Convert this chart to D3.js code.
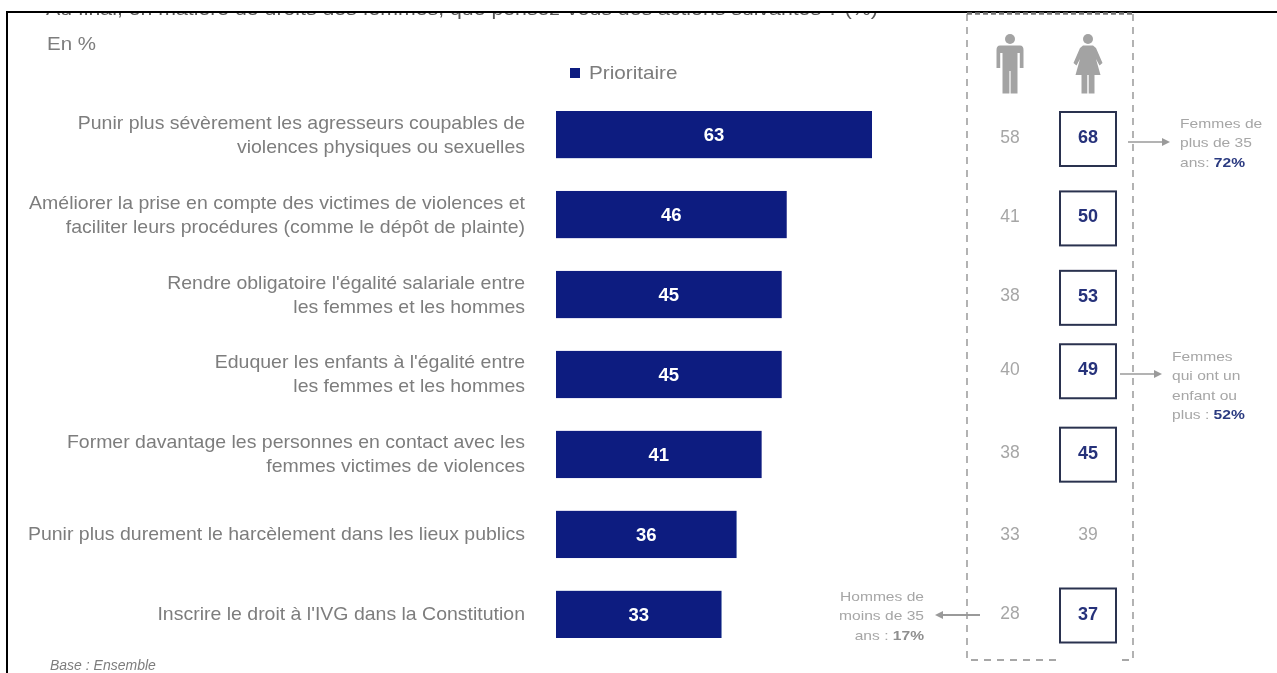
<!DOCTYPE html>
<html lang="fr"><head><meta charset="utf-8">
<script src="https://cdn.jsdelivr.net/npm/d3@7"></script>
<style>
html,body{margin:0;padding:0;background:#fff;overflow:hidden}
svg{display:block}
text{font-family:"Liberation Sans",Arial,sans-serif}
</style></head><body>
<svg id="c" width="1277" height="673"></svg>
<script>
const categories = [
  ["Punir plus sévèrement les agresseurs coupables de","violences physiques ou sexuelles"],
  ["Améliorer la prise en compte des victimes de violences et","faciliter leurs procédures (comme le dépôt de plainte)"],
  ["Rendre obligatoire l'égalité salariale entre","les femmes et les hommes"],
  ["Eduquer les enfants à l'égalité entre","les femmes et les hommes"],
  ["Former davantage les personnes en contact avec les","femmes victimes de violences"],
  ["Punir plus durement le harcèlement dans les lieux publics"],
  ["Inscrire le droit à l'IVG dans la Constitution"]
];
const prioritaire = [63,46,45,45,41,36,33];
const hommes = [58,41,38,40,38,33,28];
const femmes = [68,50,53,49,45,39,37];
const femmesEncadre = [true,true,true,true,true,false,true];
const titre = "Au final, en matière de droits des femmes, que pensez-vous des actions suivantes ? (%)";
const unite = "En %";
const legende = "Prioritaire";
const base = "Base : Ensemble";

const NAVY="#0b1f80", GREY="#7d7d7d", LIGHT="#a6a6a6", BOX="#2b3350";
const svg=d3.select("#c");
const defs=svg.append("defs");
const f=defs.append("filter").attr("id","soft").attr("x","-5%").attr("y","-5%").attr("width","110%").attr("height","110%");
f.append("feGaussianBlur").attr("stdDeviation",0.55);
defs.append("clipPath").attr("id","clipTop").append("rect").attr("x",0).attr("y",12).attr("width",1277).attr("height",660);

const x=d3.scaleLinear().domain([0,63]).range([556,872]);
const y=d3.scaleBand().domain(d3.range(categories.length)).range([95,654]).paddingInner(0.41).paddingOuter(0.2);
const cy=i=>y(i)+y.bandwidth()/2;
// colonnes de droite : légèrement décalées des barres dans l'original
const yR=d3.scalePoint().domain(d3.range(categories.length)).range([139,615.5]);
const rowNudge=[0,0,0,-6,-2,0,0];
const cyR=i=>yR(i)+rowNudge[i];
const xH=1010, xF=1088, SX=1.083;

const g=svg.append("g").attr("filter","url(#soft)");

// Texte étiré horizontalement autour de son ancre, comme dans l'image d'origine
function wide(sel,xp,sx){ return sel.attr("x",0).attr("transform",`translate(${xp},0) scale(${sx},1)`); }

// titre coupé
g.append("g").attr("clip-path","url(#clipTop)").call(c=>{
  wide(c.append("text").attr("y",15).attr("font-size",18).attr("fill","#555").text(titre),46,1.182);
});

// cadre
g.append("path").attr("d","M7,673V12H1277").attr("fill","none").attr("stroke","#000").attr("stroke-width",2);

wide(g.append("text").attr("y",50).attr("font-size",18).attr("fill",GREY).text(unite),47,1.14);

// légende
g.append("rect").attr("x",570).attr("y",68).attr("width",10).attr("height",10).attr("fill",NAVY);
wide(g.append("text").attr("y",79).attr("font-size",18).attr("fill",GREY).text(legende),589,1.15);

// cadre pointillé
g.append("path").attr("d","M967,14V660H1058M1122,660H1133V14").attr("fill","none").attr("stroke","#8a8a8a")
  .attr("stroke-width",1.3).attr("stroke-dasharray","7 6");
g.append("line").attr("x1",967).attr("x2",1133).attr("y1",13.5).attr("y2",13.5)
  .attr("stroke","#777").attr("stroke-width",2.5).attr("stroke-dasharray","5 3");

// libellés
categories.forEach((lines,i)=>{
  const y0=cy(i)+6-(lines.length-1)*12;
  lines.forEach((l,k)=>{
    wide(g.append("text").attr("text-anchor","end").attr("font-size",18).attr("fill",GREY)
      .attr("y",y0+k*24).text(l),525,SX);
  });
});

// barres
g.selectAll("rect.bar").data(prioritaire).join("rect").attr("class","bar")
  .attr("x",x(0)).attr("y",(d,i)=>y(i)).attr("width",d=>x(d)-x(0)).attr("height",y.bandwidth()).attr("fill",NAVY);
g.selectAll("text.val").data(prioritaire).join("text").attr("class","val")
  .attr("x",d=>(x(d)+x(0))/2).attr("y",(d,i)=>cy(i)+6.5).attr("text-anchor","middle")
  .attr("font-size",18.5).attr("font-weight","bold").attr("fill","#fff").text(d=>d);

// hommes
g.selectAll("text.h").data(hommes).join("text").attr("class","h")
  .attr("x",xH).attr("y",(d,i)=>cyR(i)+3.5).attr("text-anchor","middle").attr("font-size",17.5).attr("fill",LIGHT).text(d=>d);
// femmes
femmes.forEach((d,i)=>{
  const boxed=femmesEncadre[i];
  if(boxed) g.append("rect").attr("x",xF-28).attr("y",cyR(i)-27).attr("width",56).attr("height",54)
    .attr("fill","#fff").attr("stroke",BOX).attr("stroke-width",2);
  g.append("text").attr("x",xF).attr("y",cyR(i)+(boxed?4:3.5)).attr("text-anchor","middle")
    .attr("font-size",boxed?18:17.5).attr("font-weight",boxed?"bold":"normal")
    .attr("fill",boxed?"#25307a":LIGHT).text(d);
});

// pictogrammes
const ic="#a3a3a3";
const man=g.append("g").attr("transform",`translate(${xH},0)`).attr("fill",ic);
man.append("circle").attr("cx",0).attr("cy",39).attr("r",5);
man.append("path").attr("d","M-10,45.5Q-13.5,45.5 -13.5,50V68H-9.8V53H-7.5V93.5H-0.6V71H0.6V93.5H7.5V53H9.8V68H13.5V50Q13.5,45.5 10,45.5Z");
const wom=g.append("g").attr("transform",`translate(${xF},0)`).attr("fill",ic);
wom.append("circle").attr("cx",0).attr("cy",39).attr("r",5);
wom.append("path").attr("d","M-5,45.5H5L8,48L14.5,63L11.5,65.5L8,59L12.5,75H6.5V93.5H0.7V75H-0.7V93.5H-6.5V75H-12.5L-8,59L-11.5,65.5L-14.5,63L-8,48Z");

// annotations
function arrow(x1,x2,yy,w){
  g.append("line").attr("x1",x1).attr("x2",x2).attr("y1",yy).attr("y2",yy).attr("stroke","#9a9a9a").attr("stroke-width",w||1.3);
  const s=x2>x1?1:-1;
  g.append("path").attr("d",`M${x2+s*8},${yy}L${x2},${yy-4}V${yy+4}Z`).attr("fill","#9a9a9a");
}
function note(xp,anchor,y0,lh,lines){
  lines.forEach((l,k)=>{
    const t=wide(g.append("text").attr("y",y0+k*lh).attr("text-anchor",anchor).attr("font-size",13).attr("fill",LIGHT),xp,1.2);
    l.forEach(p=>{
      const s=t.append("tspan").text(p.t);
      if(p.b) s.attr("font-weight","bold").attr("fill",p.c||NAVY);
    });
  });
}
arrow(1128,1162,142);
note(1180,"start",128,19.5,[[{t:"Femmes de"}],[{t:"plus de 35"}],[{t:"ans: "},{t:"72%",b:1,c:"#2b3a80"}]]);
arrow(1120,1154,374);
note(1172,"start",361,19.5,[[{t:"Femmes"}],[{t:"qui ont un"}],[{t:"enfant ou"}],[{t:"plus : "},{t:"52%",b:1,c:"#2b3a80"}]]);
arrow(980,943,615,2);
note(924,"end",601,19.5,[[{t:"Hommes de"}],[{t:"moins de 35"}],[{t:"ans : "},{t:"17%",b:1,c:"#8f8f8f"}]]);

// base
g.append("text").attr("x",50).attr("y",670).attr("font-size",14).attr("font-style","italic").attr("fill",GREY).text(base);
</script>
</body></html>
